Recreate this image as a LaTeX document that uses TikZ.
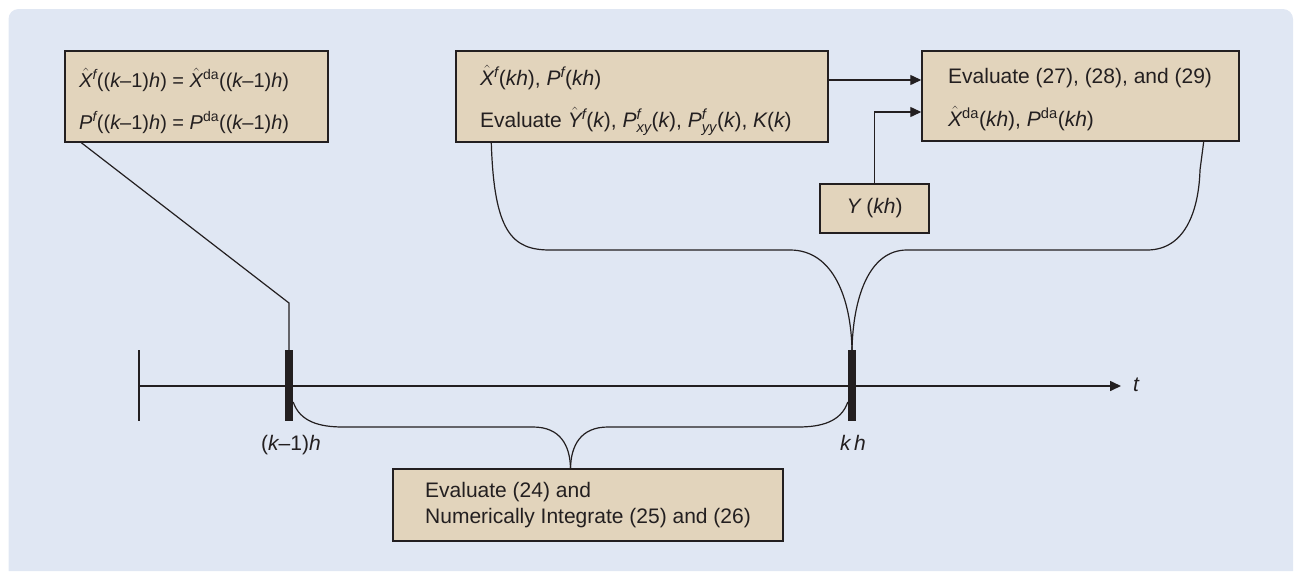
\documentclass[tikz,border=0pt]{standalone}
\usepackage{fontspec}
\setmainfont{Liberation Sans}
\usepackage{amsmath}
\usetikzlibrary{arrows.meta,calc}
\definecolor{panel}{RGB}{224,231,243}
\definecolor{boxfill}{RGB}{226,212,188}
\definecolor{ink}{RGB}{35,31,32}
\newcommand\hX{\ensuremath{\hat{\text{\itshape X}}}}
\newcommand\hY{\ensuremath{\hat{\text{\itshape Y}}}}
\newcommand\vi[1]{{\itshape #1}}
\newcommand\supf{\textsuperscript{\itshape f}}
\newcommand\supda{\textsuperscript{da}}
\newcommand\Pxy[1]{{\itshape P}$^{\text{\itshape f}}_{\text{\itshape #1}}$}
\tikzset{
  box/.style={draw=ink, fill=boxfill, line width=1.4pt, inner sep=0pt, rectangle},
  txt/.style={font=\fontsize{21}{25}\selectfont, inner sep=0pt, anchor=base west, text=ink},
  lbl/.style={font=\fontsize{21}{25}\selectfont, inner sep=0pt, anchor=base, text=ink},
  conn/.style={draw=ink, line width=1.2pt},
  arr/.style={draw=ink, line width=1.2pt, -{Triangle[length=11pt,width=10pt]}},
  axis/.style={draw=ink, line width=1.6pt},
  tickbar/.style={fill=ink, inner sep=0pt, minimum width=8pt, minimum height=71pt, rectangle}
}
\begin{document}
\begin{tikzpicture}[x=1pt,y=-1pt]
\useasboundingbox (0,0) rectangle (1294,571);
\fill[panel] (8.5,571) [rounded corners=10pt] -- (8.5,9) -- (1293,9) [sharp corners] -- (1293,571) -- cycle;

% boxes
\node[box, minimum width=263pt, minimum height=91pt] (b1) at (196.5,96.5) {};
\node[box, minimum width=372pt, minimum height=91pt] (b2) at (642,96.5) {};
\node[box, minimum width=317pt, minimum height=90pt] (b3) at (1080.5,96) {};
\node[box, minimum width=109pt, minimum height=49pt, font=\fontsize{21}{25}\selectfont, text=ink] (bY) at (874.5,208.5) {\vi{Y} (\vi{kh})};
\node[box, minimum width=390pt, minimum height=72pt] (bB) at (588,505) {};

% texts
\node[txt, font=\fontsize{20}{24}\selectfont] (l11) at (79,87.5) {\hX\supf((\vi{k}–1)\vi{h}) = \hX\supda((\vi{k}–1)\vi{h})};
\node[txt, font=\fontsize{20}{24}\selectfont] (l12) at (79,129) {\vi{P}\supf((\vi{k}–1)\vi{h}) = \vi{P}\supda((\vi{k}–1)\vi{h})};
\node[txt] (l21) at (480,85) {\hX\supf(\vi{kh}), \vi{P}\supf(\vi{kh})};
\node[txt] (l22) at (480,127) {Evaluate \hY\supf(\vi{k}), \Pxy{xy}(\vi{k}), \Pxy{yy}(\vi{k}), \vi{K}(\vi{k})};
\node[txt] (l31) at (948,83) {Evaluate (27), (28), and (29)};
\node[txt] (l32) at (948,126) {\hX\supda(\vi{kh}), \vi{P}\supda(\vi{kh})};
\node[txt] (lB1) at (425,497) {Evaluate (24) and};
\node[txt] (lB2) at (425,523) {Numerically Integrate (25) and (26)};

% time axis
\coordinate (t0) at (139,386);
\coordinate (tend) at (1121,386);
\draw[axis] (t0) ++(0,-36) -- ++(0,71);
\draw[axis, -{Triangle[length=11pt,width=10pt]}] (t0) -- (tend);
\node[lbl, anchor=base west, font=\fontsize{21}{25}\selectfont\itshape] (tl) at (1133,391) {t};
\node[tickbar] (t1) at (289,385.5) {};
\node[tickbar] (t2) at (852,385.5) {};
\node[lbl] (k1) at (291,450) {(\vi{k}–1)\vi{h}};
\node[lbl] (k2) at (853,450) {\vi{k\,h}};

% connectors
\draw[conn] ([xshift=17pt]b1.south west) -- (t1.north |- 0,303) -- (t1.north);
\draw[arr] (b2.east |- 0,80) -- (b3.west |- 0,80);
\draw[arr] (bY.north) -- (bY.north |- 0,112) -- (b3.west |- 0,112);

% upper brace
\draw[conn] ([xshift=36pt]b2.south west) .. controls (494,232) and (512,250) .. (550,250)
  -- (790,250) .. controls (834,250) and (851,300) .. (t2.north);
\draw[conn] (t2.north) .. controls (853,300) and (868,250) .. (907,250)
  -- (1147,250) .. controls (1188,250) and (1199,205) .. (1200,170) -- ([xshift=-36pt]b3.south east);

% lower brace
\path (t1) -- (t2) coordinate[pos=0.5] (mid);
\draw[conn] (t1.east |- 0,402) .. controls (300,422) and (320,427) .. (343,427)
  -- (533,427) .. controls (560,427) and (570,445) .. (mid |- bB.north);
\draw[conn] (t2.west |- 0,402) .. controls (841,422) and (821,427) .. (798,427)
  -- (608,427) .. controls (581,427) and (571,445) .. (mid |- bB.north);
\end{tikzpicture}
\end{document}
